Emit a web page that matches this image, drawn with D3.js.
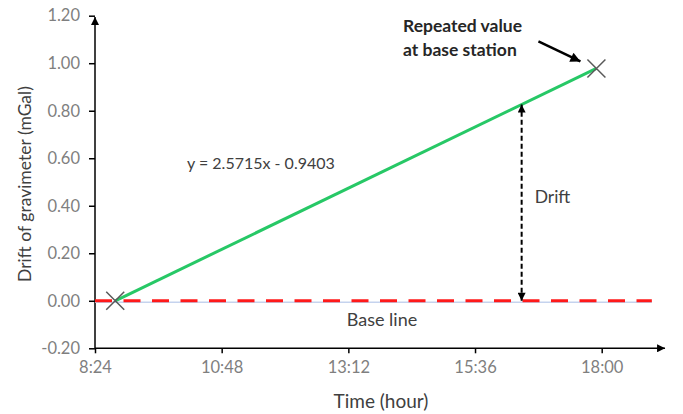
<!DOCTYPE html>
<html>
<head>
<meta charset="utf-8">
<script src="https://cdn.jsdelivr.net/npm/d3@7"></script>
<style>
  body { margin: 0; background: #fff; }
  text { font-family: Lato, 'Open Sans', sans-serif; }
</style>
</head>
<body>
<div id="chart"></div>
<script>
// data
let timeTicks = ['8:24', '10:48', '13:12', '15:36', '18:00']
let driftTicks = [-0.2, 0, 0.2, 0.4, 0.6, 0.8, 1.0, 1.2]

// base station readings (first and repeated)
let readTimes = ['8:47', '17:54']
let readDrift = [0, 0.978]

let slope = 2.5715, intercept = -0.9403
let driftAt = '16:29'
let baseEnd = '18:57'
let axisEnd = '19:12'

let width = 683, height = 414

// h:mm -> fraction of a day
function toDay(s) {
    let p = s.split(':')
    return (+p[0] + +p[1] / 60) / 24
}

let x = d3.scaleLinear()
.domain([toDay('8:24'), toDay('18:00')])
.range([95, 601.7])

let y = d3.scaleLinear()
.domain([-0.2, 1.2])
.range([348.3, 15.7])

let svg = d3.select('#chart')
.append('svg')
.attr('width', width)
.attr('height', height)

svg.append('rect').attr('width', width).attr('height', height).attr('fill', '#fff')

let defs = svg.append('defs')
defs.append('marker')
.attr('id', 'head')
.attr('viewBox', '0 0 10 10')
.attr('refX', 10).attr('refY', 5)
.attr('markerWidth', 10).attr('markerHeight', 8)
.attr('markerUnits', 'userSpaceOnUse')
.attr('orient', 'auto-start-reverse')
.append('path')
.attr('d', 'M0,0L10,5L0,10Z')
.attr('fill', '#000')

defs.append('marker')
.attr('id', 'head2')
.attr('viewBox', '0 0 10 10')
.attr('refX', 10).attr('refY', 5)
.attr('markerWidth', 13).attr('markerHeight', 10)
.attr('markerUnits', 'userSpaceOnUse')
.attr('orient', 'auto')
.append('path')
.attr('d', 'M0,0L10,5L0,10Z')
.attr('fill', '#000')

// axes
let xAxis = d3.axisBottom(x)
.tickValues(timeTicks.map(toDay))
.tickFormat((d, i) => timeTicks[i])
.tickSize(5)
.tickSizeOuter(0)
.tickPadding(8)

let yAxis = d3.axisLeft(y)
.tickValues(driftTicks)
.tickFormat(d => d.toFixed(2))
.tickSize(6)
.tickSizeOuter(0)
.tickPadding(9)

let gx = svg.append('g')
.attr('transform', `translate(0,${y(-0.2)})`)
.call(xAxis)

let gy = svg.append('g')
.attr('transform', `translate(${x(toDay('8:24'))},0)`)
.call(yAxis)

;[gx, gy].forEach(g => {
    g.select('.domain').remove()
    g.selectAll('.tick line').attr('stroke', '#000').attr('stroke-width', 1.5)
    g.selectAll('.tick text')
    .attr('fill', '#7f7f7f')
    .style('font-size', '16.5px')
})

// axis lines with arrows
svg.append('line')
.attr('x1', x(toDay('8:24'))).attr('x2', x(toDay(axisEnd)))
.attr('y1', y(-0.2)).attr('y2', y(-0.2))
.attr('stroke', '#000').attr('stroke-width', 1.5)
.attr('marker-end', 'url(#head)')

svg.append('line')
.attr('x1', x(toDay('8:24'))).attr('x2', x(toDay('8:24')))
.attr('y1', y(-0.2)).attr('y2', 17)
.attr('stroke', '#000').attr('stroke-width', 1.5)
.attr('marker-end', 'url(#head)')

// base line
svg.append('line')
.attr('x1', x(toDay('8:24'))).attr('x2', x(toDay(baseEnd)))
.attr('y1', y(0) + 1.5).attr('y2', y(0) + 1.5)
.attr('stroke', '#c5d3ee').attr('stroke-width', 1.5)

svg.append('line')
.attr('x1', x(toDay('8:24'))).attr('x2', x(toDay(baseEnd)))
.attr('y1', y(0)).attr('y2', y(0))
.attr('stroke', '#ff1a1a').attr('stroke-width', 3)
.attr('stroke-dasharray', '17,11.5')

// drift line between the readings
let pts = readTimes.map((t, i) => [toDay(t), readDrift[i]])

svg.append('path')
.datum(pts)
.attr('d', d3.line().x(d => x(d[0])).y(d => y(d[1])))
.attr('fill', 'none')
.attr('stroke', '#27c866')
.attr('stroke-width', 3)

// reading markers
svg.selectAll('.mark')
.data(pts)
.join('path')
.attr('class', 'mark')
.attr('transform', d => `translate(${x(d[0])},${y(d[1])})`)
.attr('d', 'M-9,-9L9,9M-9,9L9,-9')
.attr('stroke', '#595959')
.attr('stroke-width', 1.5)

// drift arrow
let dDay = toDay(driftAt)
svg.append('line')
.attr('x1', x(dDay)).attr('x2', x(dDay))
.attr('y1', y(0)).attr('y2', y(slope * dDay + intercept))
.attr('stroke', '#000').attr('stroke-width', 2)
.attr('stroke-dasharray', '5,3')
.attr('marker-start', 'url(#head)')
.attr('marker-end', 'url(#head)')

svg.append('text')
.attr('x', x(dDay) + 13).attr('y', 203)
.attr('fill', '#404040')
.style('font-size', '17.5px')
.text('Drift')

// equation
svg.append('text')
.attr('x', 187).attr('y', 168.5)
.attr('fill', '#404040')
.style('font-size', '16px')
.text(`y = ${slope}x - ${Math.abs(intercept)}`)

svg.append('text')
.attr('x', 382).attr('y', 325.5)
.attr('text-anchor', 'middle')
.attr('fill', '#404040')
.style('font-size', '18px')
.text('Base line')

// annotation for repeated value
let last = pts[1]
svg.append('line')
.attr('x1', x(last[0]) - 58).attr('y1', y(last[1]) - 27)
.attr('x2', x(last[0]) - 16).attr('y2', y(last[1]) - 7)
.attr('stroke', '#000').attr('stroke-width', 2.5)
.attr('marker-end', 'url(#head2)')

svg.append('text')
.attr('x', 403).attr('y', 32)
.attr('fill', '#262626')
.style('font-size', '17.5px')
.style('font-weight', 'bold')
.selectAll('tspan')
.data(['Repeated value', 'at base station'])
.join('tspan')
.attr('x', 403)
.attr('dy', (d, i) => i ? 24 : 0)
.text(d => d)

// axis titles
svg.append('text')
.attr('x', 381).attr('y', 408)
.attr('text-anchor', 'middle')
.attr('fill', '#404040')
.style('font-size', '19px')
.text('Time (hour)')

svg.append('text')
.attr('transform', 'translate(31,184) rotate(-90)')
.attr('text-anchor', 'middle')
.attr('fill', '#404040')
.style('font-size', '17.5px')
.text('Drift of gravimeter (mGal)')
</script>
</body>
</html>
